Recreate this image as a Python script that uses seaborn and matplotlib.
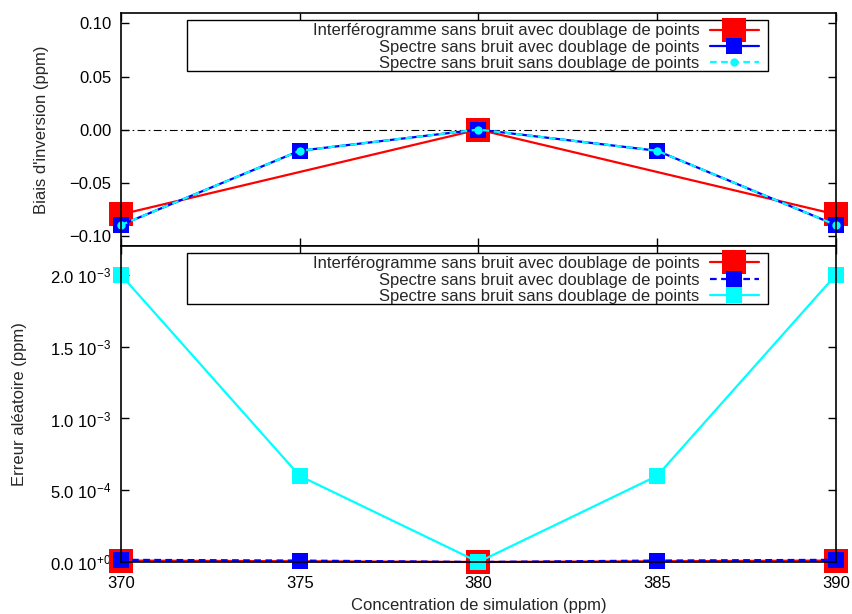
import matplotlib
matplotlib.use('Agg')
import matplotlib.pyplot as plt
from matplotlib.patches import Rectangle
import seaborn as sns

# concentrations (ppm)
conc = [370, 375, 380, 385, 390]
conc_interf = [370, 380, 390]

# biais d'inversion (ppm)
bias_interf = [-0.08, 0.0, -0.08]
bias_spec_dbl = [-0.09, -0.02, 0.0, -0.02, -0.09]
bias_spec_nodbl = [-0.09, -0.02, 0.0, -0.02, -0.09]

# erreur aleatoire (ppm)
err_interf = [1.0e-5, 0.0, 1.0e-5]
err_spec_dbl = [1.5e-5, 1.0e-5, 0.0, 1.0e-5, 1.5e-5]
err_spec_nodbl = [2.0e-3, 6.0e-4, 0.0, 6.0e-4, 2.0e-3]

labels = ["Interférogramme sans bruit avec doublage de points",
          "Spectre sans bruit avec doublage de points",
          "Spectre sans bruit sans doublage de points"]

bias_ticks = [-0.10, -0.05, 0.0, 0.05, 0.10]
err_ticks = [0.0, 5.0e-4, 1.0e-3, 1.5e-3, 2.0e-3]
err_tick_mant = ["0.0", "5.0", "1.0", "1.5", "2.0"]
err_tick_exp = ["+0", "-4", "-3", "-3", "-3"]
x_ticks = [370, 375, 380, 385, 390]

sns.set_theme(style='ticks')
plt.rcParams['font.family'] = ['Liberation Sans', 'DejaVu Sans']
plt.rcParams['mathtext.fontset'] = 'custom'
plt.rcParams['mathtext.rm'] = 'Liberation Sans'
plt.rcParams['mathtext.it'] = 'Liberation Sans:italic'
plt.rcParams['mathtext.bf'] = 'Liberation Sans:bold'
plt.rcParams['axes.linewidth'] = 1.2

fig = plt.figure(figsize=(8.52, 6.14), dpi=100)
ax1 = fig.add_axes([0.142, 0.599, 0.839, 0.380])
ax2 = fig.add_axes([0.142, 0.0847, 0.839, 0.5143])

red, blue, cyan = '#ff0000', '#0000ff', '#00ffff'


def right_align_legend(leg):
    for col in leg._legend_handle_box.get_children():
        col.align = 'right'


def style_axis(ax):
    ax.tick_params(direction='in', length=5.5, width=1, top=True, right=True,
                   labelsize=12, colors='black', pad=7)
    for s in ax.spines.values():
        s.set_color('black')
        s.set_linewidth(1.2)


def gnuplot_key(ax, box, anchor):
    # fixed-size frame like gnuplot's key, text right-aligned before the sample
    ax.add_patch(Rectangle(box[:2], box[2], box[3], transform=ax.transAxes,
                           facecolor='white', edgecolor='black', lw=1.0,
                           zorder=4))
    leg = ax.legend(loc='upper right', bbox_to_anchor=anchor,
                    markerfirst=False, numpoints=1, frameon=False,
                    borderaxespad=0, borderpad=0, handlelength=2.9,
                    handletextpad=0.65, labelspacing=0.08, fontsize=12)
    leg.set_zorder(5)
    right_align_legend(leg)
    return leg


# ---- top panel: biais
ax1.axhline(0, color='black', lw=0.8, linestyle=(0, (7, 3, 1.5, 3)))
sns.lineplot(x=conc_interf, y=bias_interf, ax=ax1, color=red, lw=1.6,
             marker='s', markersize=17, markeredgewidth=0, markeredgecolor=red,
             errorbar=None, clip_on=False, label=labels[0])
sns.lineplot(x=conc, y=bias_spec_dbl, ax=ax1, color=blue, lw=1.6,
             marker='s', markersize=12, markeredgewidth=0, markeredgecolor=blue,
             errorbar=None, clip_on=False, label=labels[1])
sns.lineplot(x=conc, y=bias_spec_nodbl, ax=ax1, color=cyan, lw=1.6,
             linestyle=(0, (3, 2)), marker='o', markersize=6,
             markeredgewidth=0, markeredgecolor=cyan,
             errorbar=None, clip_on=False, label=labels[2])
ax1.set_xlim(370, 390)
ax1.set_ylim(-0.11, 0.11)
ax1.set_xticks(x_ticks)
ax1.set_xticklabels([])
ax1.set_yticks(bias_ticks)
ax1.set_yticklabels([f"{v:.2f}".replace('-', '\u2212') for v in bias_ticks])
ax1.set_ylabel("Biais d'inversion (ppm)", fontsize=12)
ax1.yaxis.set_label_coords(-0.101, 0.5)
ax1.set_xlabel('')
style_axis(ax1)
gnuplot_key(ax1, (0.092, 0.751, 0.813, 0.219), (0.892, 0.955))

# ---- bottom panel: erreur aleatoire
sns.lineplot(x=conc_interf, y=err_interf, ax=ax2, color=red, lw=1.6,
             marker='s', markersize=17, markeredgewidth=0, markeredgecolor=red,
             errorbar=None, clip_on=False, label=labels[0])
sns.lineplot(x=conc, y=err_spec_dbl, ax=ax2, color=blue, lw=1.6,
             linestyle=(0, (3, 2)), marker='s', markersize=12,
             markeredgewidth=0, markeredgecolor=blue,
             errorbar=None, clip_on=False, label=labels[1])
sns.lineplot(x=conc, y=err_spec_nodbl, ax=ax2, color=cyan, lw=1.6,
             marker='s', markersize=12, markeredgewidth=0, markeredgecolor=cyan,
             errorbar=None, clip_on=False, label=labels[2])
ax2.set_xlim(370, 390)
ax2.set_ylim(0, 2.2e-3)
ax2.set_xticks(x_ticks)
ax2.set_xticklabels([str(v) for v in x_ticks])
ax2.set_yticks(err_ticks)
ax2.set_yticklabels([rf"$\mathrm{{{m}\ 10^{{{e}}}}}$"
                     for m, e in zip(err_tick_mant, err_tick_exp)])
ax2.set_ylabel("Erreur aléatoire (ppm)", fontsize=12)
ax2.yaxis.set_label_coords(-0.131, 0.5)
ax2.set_xlabel("Concentration de simulation (ppm)", fontsize=12, labelpad=5)
style_axis(ax2)
ax2.tick_params(axis='x', pad=10)
gnuplot_key(ax2, (0.092, 0.816, 0.813, 0.162), (0.892, 0.968))

fig.savefig('out.png', dpi=100)
